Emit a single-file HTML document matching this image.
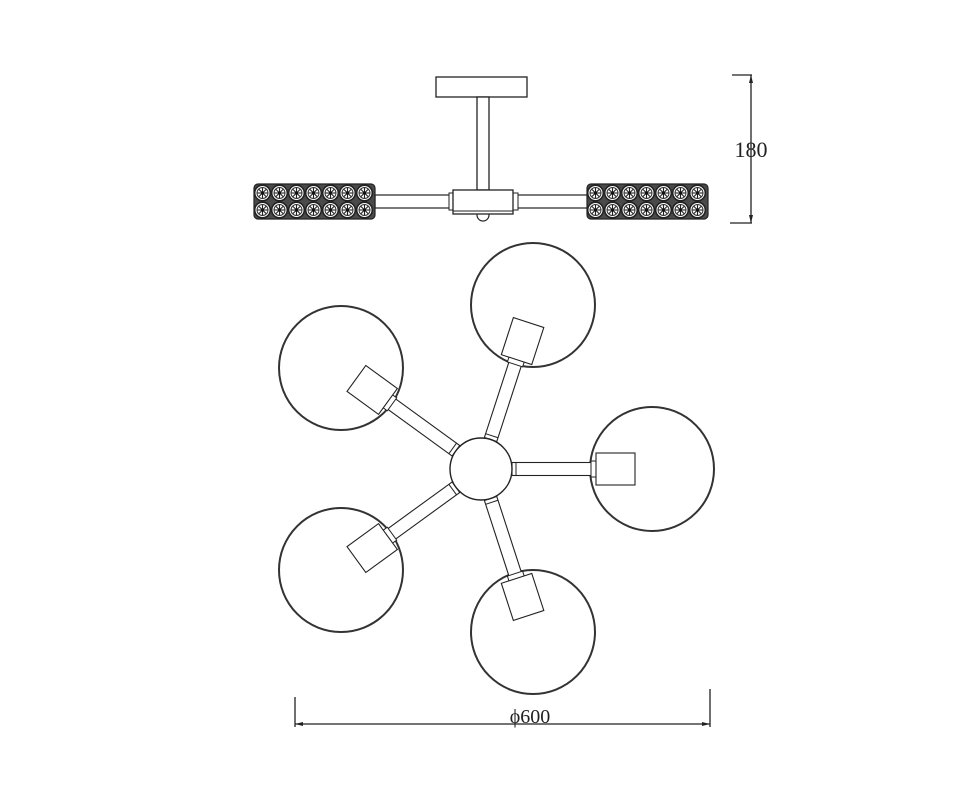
<!DOCTYPE html>
<html><head><meta charset="utf-8"><style>html,body{margin:0;padding:0;background:#fff}svg{display:block}</style></head>
<body>
<svg width="978" height="800" viewBox="0 0 978 800" xmlns="http://www.w3.org/2000/svg">
<defs>
<g id="rosette">
  <circle r="7.8" fill="#fff" stroke="#222" stroke-width="1.6"/>
  <circle r="5.5" fill="none" stroke="#333" stroke-width="1"/>
  <g stroke="#222" stroke-width="1.1">
    <line x1="-5" y1="0" x2="5" y2="0"/><line x1="0" y1="-5" x2="0" y2="5"/>
    <line x1="-3.6" y1="-3.6" x2="3.6" y2="3.6"/><line x1="-3.6" y1="3.6" x2="3.6" y2="-3.6"/>
  </g>
  <circle r="1.6" fill="#111"/>
</g>
<g id="shade">
  <rect x="0" y="0" width="121" height="35" rx="4" fill="#4a4a4a" stroke="#222" stroke-width="1.2"/>
  <g transform="translate(8.5,9)"><use href="#rosette"/><use href="#rosette" x="17"/><use href="#rosette" x="34"/><use href="#rosette" x="51"/><use href="#rosette" x="68"/><use href="#rosette" x="85"/><use href="#rosette" x="102"/></g>
  <g transform="translate(8.5,26)"><use href="#rosette"/><use href="#rosette" x="17"/><use href="#rosette" x="34"/><use href="#rosette" x="51"/><use href="#rosette" x="68"/><use href="#rosette" x="85"/><use href="#rosette" x="102"/></g>
</g>
<g id="arm">
  <rect x="31" y="-6.5" width="84" height="13" fill="#fff" stroke="#222" stroke-width="1.1"/>
  <line x1="35" y1="-6.5" x2="35" y2="6.5" stroke="#222" stroke-width="1"/>
  <rect x="110" y="-8" width="6" height="16" fill="#fff" stroke="#222" stroke-width="1"/>
  <rect x="115" y="-16" width="39" height="32" fill="#fff" stroke="#222" stroke-width="1.1"/>
</g>
</defs>

<!-- Side view -->
<rect x="436" y="77" width="91" height="20" fill="#fff" stroke="#222" stroke-width="1.3"/>
<rect x="477" y="97" width="12" height="93" fill="#fff" stroke="#222" stroke-width="1.3"/>
<rect x="375" y="195" width="79" height="13" fill="#fff" stroke="#222" stroke-width="1.2"/>
<rect x="513" y="195" width="76" height="13" fill="#fff" stroke="#222" stroke-width="1.2"/>
<rect x="449" y="193" width="5" height="17" fill="#fff" stroke="#222" stroke-width="1"/>
<rect x="513" y="193" width="5" height="17" fill="#fff" stroke="#222" stroke-width="1"/>
<circle cx="483" cy="215" r="6" fill="#fff" stroke="#222" stroke-width="1.2"/>
<rect x="453" y="190" width="60" height="24" fill="#fff" stroke="#222" stroke-width="1.3"/>
<line x1="453" y1="211" x2="513" y2="211" stroke="#222" stroke-width="1"/>
<use href="#shade" x="254" y="184"/>
<use href="#shade" x="587" y="184"/>

<!-- dimension 180 -->
<g stroke="#222" stroke-width="1.3">
<line x1="751" y1="75" x2="751" y2="223"/>
<line x1="732" y1="75" x2="752" y2="75"/>
<line x1="730" y1="223" x2="752" y2="223"/>
</g>
<path d="M751 75 l-2 8 h4 z M751 223 l-2 -8 h4 z" fill="#222"/>
<text x="751" y="157" font-family="Liberation Serif, serif" font-size="22" text-anchor="middle" fill="#222">180</text>

<!-- Top view -->
<g fill="none" stroke="#333" stroke-width="2">
<circle cx="533" cy="305" r="62"/>
<circle cx="652" cy="469" r="62"/>
<circle cx="533" cy="632" r="62"/>
<circle cx="341" cy="368" r="62"/>
<circle cx="341" cy="570" r="62"/>
</g>
<g transform="translate(481,469)">
<use href="#arm" transform="rotate(0)"/>
<use href="#arm" transform="rotate(-72)"/>
<use href="#arm" transform="rotate(-144)"/>
<use href="#arm" transform="rotate(144)"/>
<use href="#arm" transform="rotate(72)"/>
<circle r="31" fill="#fff" stroke="#222" stroke-width="1.4"/>
</g>

<!-- dimension 600 -->
<g stroke="#222" stroke-width="1.3">
<line x1="295" y1="724" x2="710" y2="724"/>
<line x1="295" y1="697" x2="295" y2="727"/>
<line x1="710" y1="689" x2="710" y2="727"/>
</g>
<path d="M295 724 l8 -2 v4 z M710 724 l-8 -2 v4 z" fill="#222"/>
<text x="530" y="723" font-family="Liberation Serif, serif" font-size="20" text-anchor="middle" fill="#222">ϕ600</text>
</svg>
</body></html>
